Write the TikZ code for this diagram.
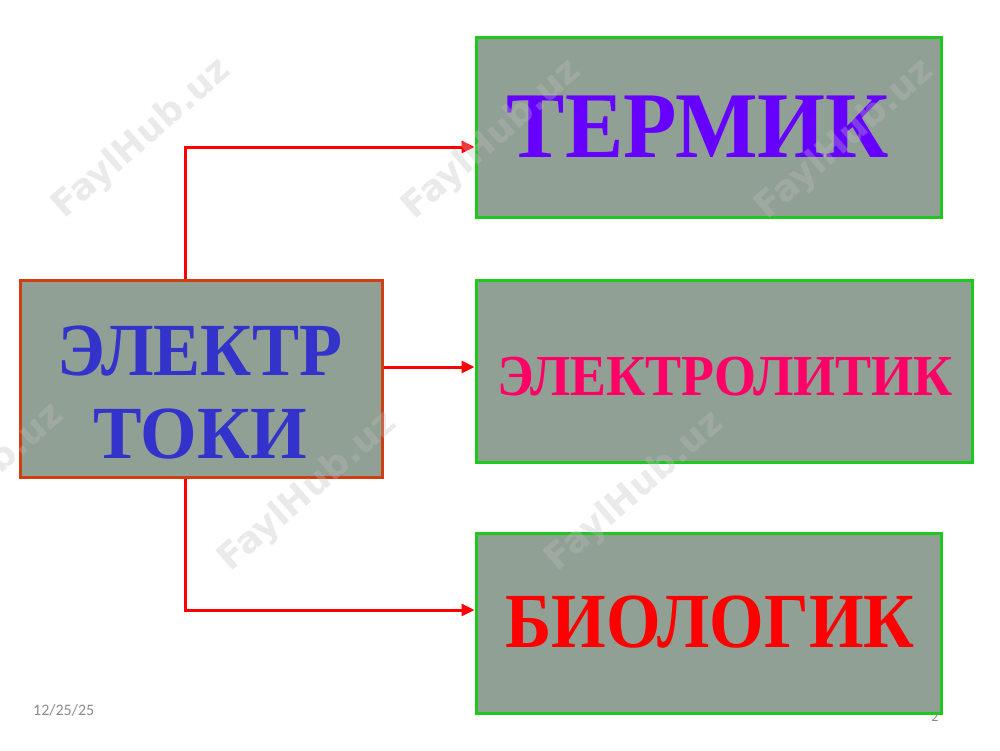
\documentclass[tikz,border=0pt]{standalone}
\usepackage{fontspec}
\setmainfont{Liberation Serif}
\newfontfamily\wmfont{DejaVu Sans}
\newfontfamily\datefont{Carlito}
\usetikzlibrary{arrows.meta}
\definecolor{boxfill}{RGB}{145,160,148}
\definecolor{srcedge}{RGB}{208,62,18}
\definecolor{dstedge}{RGB}{30,200,30}
\definecolor{termc}{RGB}{102,0,255}
\definecolor{elytc}{RGB}{255,0,102}
\definecolor{bioc}{RGB}{255,0,0}
\definecolor{srcc}{RGB}{51,51,204}
\definecolor{linkc}{RGB}{255,0,0}
\definecolor{footc}{RGB}{140,140,140}
\tikzset{
  panel/.style={draw, line width=3pt, fill=boxfill, inner sep=0pt},
  dstpanel/.style={panel, draw=dstedge},
  srcpanel/.style={panel, draw=srcedge},
  link/.style={draw=linkc, line width=3pt, -{Triangle[length=13pt,width=12pt]}},
  bigtext/.style={anchor=base, inner sep=0pt, font=\bfseries},
  wmark/.style={rotate=41, text=gray!50, opacity=0.32, inner sep=0pt,
                font=\wmfont\bfseries\fontsize{36}{36}\selectfont},
}
\begin{document}
\begin{tikzpicture}[x=1pt,y=-1pt]
\useasboundingbox (0,0) rectangle (1000,750);
% footer
\node[anchor=base west, inner sep=0pt, text=footc, font=\datefont\fontsize{16}{16}\selectfont] (date) at (33,715) {12/25/25};
\node[anchor=base, inner sep=0pt, text=footc, font=\datefont\fontsize{14}{14}\selectfont] (pagenum) at (935,721) {2};
% boxes
\node[srcpanel, minimum width=362pt, minimum height=197pt] (src) at (201,378.5) {};
\node[dstpanel, minimum width=465pt, minimum height=180pt] (term) at (708.5,127) {};
\node[dstpanel, minimum width=496pt, minimum height=182pt] (elyt) at (724,371) {};
\node[dstpanel, minimum width=465pt, minimum height=180pt] (bio) at (708.5,623) {};
% texts
\node[bigtext, text=termc, font=\bfseries\fontsize{94}{94}\selectfont] (termtxt) at (698,157) {\scalebox{0.93}[1]{ТЕРМИК}};
\node[bigtext, text=elytc, font=\bfseries\fontsize{58}{58}\selectfont] (elyttxt) at (725,395) {\scalebox{0.93}[1]{ЭЛЕКТРОЛИТИК}};
\node[bigtext, text=bioc, font=\bfseries\fontsize{78}{78}\selectfont] (biotxt) at (710,647) {\scalebox{0.9}[1]{БИОЛОГИК}};
\node[bigtext, text=srcc, font=\bfseries\fontsize{75}{75}\selectfont] (srctxt1) at (200,375) {\scalebox{0.94}[1]{ЭЛЕКТР}};
\node[bigtext, text=srcc, font=\bfseries\fontsize{75}{75}\selectfont] (srctxt2) at (200,458) {\scalebox{0.97}[1]{ТОКИ}};
% connectors
\draw[link] ([xshift=-16pt]src.north) |- ([yshift=-20pt]term.west);
\draw[link] ([yshift=11.5pt]src.east) -- ([yshift=4pt]elyt.west);
\draw[link] ([xshift=-16pt]src.south) |- ([yshift=13pt]bio.west);
% watermarks
\node[wmark] (wm1) at (142,139) {FaylHub.uz};
\node[wmark] (wm2) at (492,140) {FaylHub.uz};
\node[wmark] (wm3) at (845,140) {FaylHub.uz};
\node[wmark] (wm4) at (-25,484) {FaylHub.uz};
\node[wmark] (wm5) at (308,492) {FaylHub.uz};
\node[wmark] (wm6) at (635,492) {FaylHub.uz};
\end{tikzpicture}
\end{document}
